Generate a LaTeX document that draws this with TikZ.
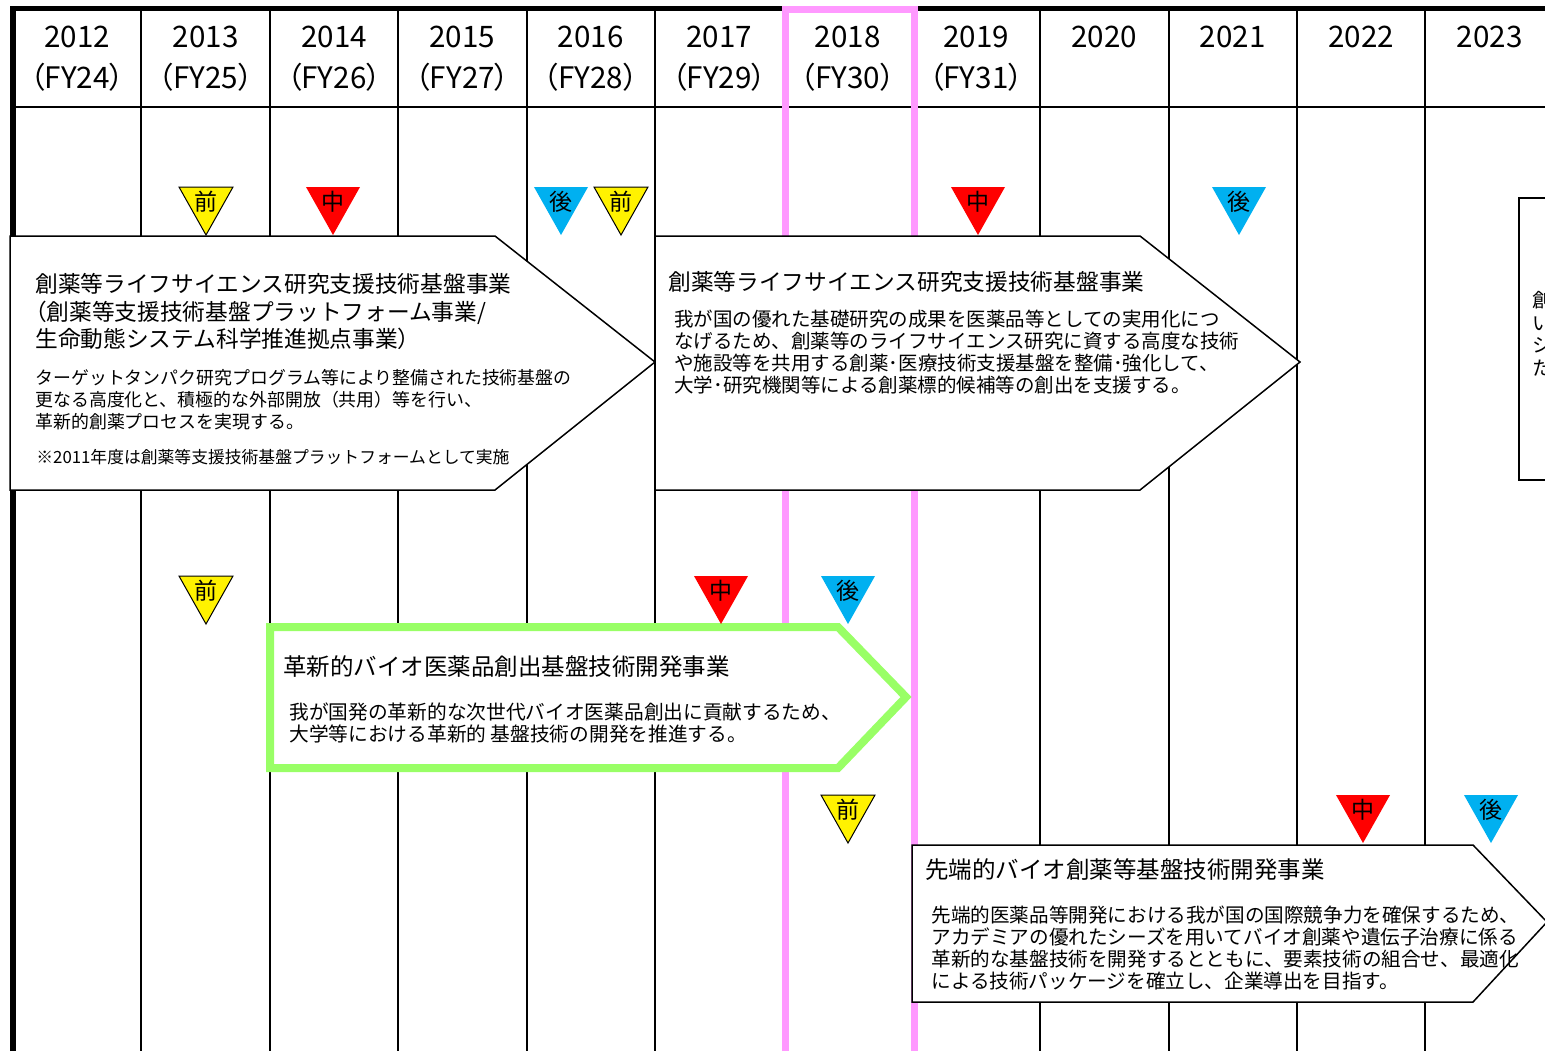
\documentclass[tikz,border=0pt]{standalone}
\usepackage{fontspec}
\setmainfont{Noto Sans CJK JP}
\newfontfamily\hdfont{Noto Sans CJK JP}[RawFeature=+palt]
\newcommand{\fsz}[2]{\fontsize{#1}{#2}\selectfont}
\definecolor{pnk}{HTML}{FF99FF}
\definecolor{grn}{HTML}{99FF66}
\definecolor{mblue}{HTML}{00B0F0}

\begin{document}
\begin{tikzpicture}[x=0.5pt,y=-0.5pt,
  gridline/.style={line width=1pt},
  border/.style={line width=2.75pt},
  yearstyle/.style={font=\hdfont\fsz{14.8pt}{17pt},inner sep=0pt},
  arrowbox/.style={draw,fill=white,line width=0.75pt},
  greenbox/.style={draw=grn,fill=white,line width=4pt},
  txt/.style={anchor=north west,inner sep=0pt,align=left},
  evalpre/.style={draw=black,fill=yellow,line width=0.5pt},
  evalmid/.style={fill=red},
  evalpost/.style={fill=mblue},
  evalchar/.style={font=\fsz{11.5pt}{11.5pt},inner sep=0pt}]
 \useasboundingbox (0,0) rectangle (1545,1051);
 \clip (0,0) rectangle (1545,1051);

 % year grid
  \foreach \i in {1,...,11}
     \draw[gridline] (13+128.4*\i,8) -- (13+128.4*\i,1051);
 \draw[gridline] (13,107) -- (1545,107);
 \draw[border] (13,1051) -- (13,8.5) -- (1545,8.5);
  \foreach \i in {0,...,11}
     {\pgfmathtruncatemacro{\yr}{2012+\i}
      \node[yearstyle] (y\i) at (77.2+128.4*\i,37) {\yr};}
  \foreach \i in {0,...,7}
     {\pgfmathtruncatemacro{\fy}{24+\i}
      \node[yearstyle] (fy\i) at (77.2+128.4*\i,77) {（FY\fy）};}

 % current year
 \draw[pnk,line width=3.5pt] (785,1051) -- (785,9.5) -- (914,9.5) -- (914,1051);

 % programmes
 \path[arrowbox] (10,236) -- (495,236) -- (655,362) -- (495,490) -- (10,490) -- cycle;
 \node[txt,font=\fsz{11.35pt}{13.75pt}] (ls1title) at (35,273)
   {創薬等ライフサイエンス研究支援技術基盤事業\\{\hdfont （}創薬等支援技術基盤プラットフォーム事業/\\生命動態システム科学推進拠点事業）};
 \node[txt,font=\fsz{8.95pt}{11pt}] (ls1body) at (35,369)
   {ターゲットタンパク研究プログラム等により整備された技術基盤の\\更なる高度化と、積極的な外部開放（共用）等を行い、\\革新的創薬プロセスを実現する。};
 \node[txt,font=\fsz{8.4pt}{10pt}] (ls1note) at (36,449)
   {※2011年度は創薬等支援技術基盤プラットフォームとして実施};

 \path[arrowbox] (655,236) -- (1140,236) -- (1300,362) -- (1140,490) -- (655,490) -- cycle;
 \node[txt,font=\fsz{11.35pt}{13.75pt}] (ls2title) at (668,271)
   {創薬等ライフサイエンス研究支援技術基盤事業};
 \node[txt,font=\fsz{9.75pt}{11pt}] (ls2body) at (674,310)
   {我が国の優れた基礎研究の成果を医薬品等としての実用化につ\\なげるため、創薬等のライフサイエンス研究に資する高度な技術\\や施設等を共用する創薬･医療技術支援基盤を整備･強化して、\\大学･研究機関等による創薬標的候補等の創出を支援する。};

 \path[greenbox] (270,627) -- (838,627) -- (906,697) -- (838,768) -- (270,768) -- cycle;
 \node[txt,font=\fsz{11.75pt}{13.75pt}] (biotitle) at (283,655)
   {革新的バイオ医薬品創出基盤技術開発事業};
 \node[txt,font=\fsz{9.85pt}{11pt}] (biobody) at (289,702)
   {我が国発の革新的な次世代バイオ医薬品創出に貢献するため、\\大学等における革新的 基盤技術の開発を推進する。};

 \path[arrowbox] (912,845) -- (1473,845) -- (1547,922) -- (1473,1002) -- (912,1002) -- cycle;
 \node[txt,font=\fsz{11.75pt}{13.75pt}] (advtitle) at (925,858)
   {先端的バイオ創薬等基盤技術開発事業};
 \node[txt,font=\fsz{9.8pt}{11.15pt}] (advbody) at (931,905)
   {先端的医薬品等開発における我が国の国際競争力を確保するため、\\アカデミアの優れたシーズを用いてバイオ創薬や遺伝子治療に係る\\革新的な基盤技術を開発するとともに、要素技術の組合せ、最適化\\による技術パッケージを確立し、企業導出を目指す。};

 \path[draw,fill=white,line width=1.25pt] (1560,198) -- (1519,198) -- (1519,480) -- (1560,480);
 \node[txt,font=\fsz{9.75pt}{11.25pt}] (nexttext) at (1532,291) {創\\い\\シ\\た};

 % evaluations
  \foreach \cx/\ty/\kind/\ch in {206/187/evalpre/前, 333/187/evalmid/中, 561/187/evalpost/後,
      621/187/evalpre/前, 978/187/evalmid/中, 1239/187/evalpost/後,
      206/576/evalpre/前, 721/576/evalmid/中, 848/576/evalpost/後,
      848/795/evalpre/前, 1363/795/evalmid/中, 1491/795/evalpost/後}
     {\path[\kind] (\cx-27,\ty) -- (\cx+27,\ty) -- (\cx,\ty+48) -- cycle;
      \node[evalchar] (e\cx-\ty) at (\cx,\ty+14.5) {\ch};}
\end{tikzpicture}
\end{document}
